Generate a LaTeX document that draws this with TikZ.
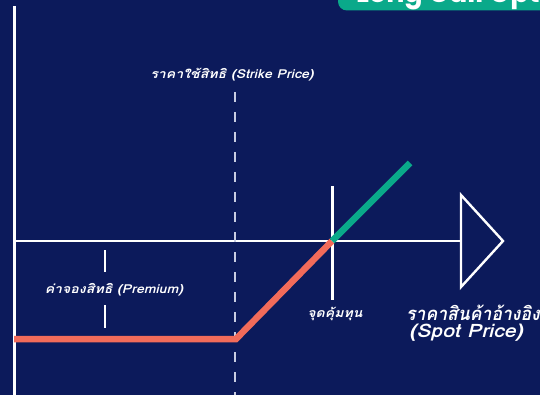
\documentclass[tikz,border=0pt]{standalone}
\usepackage{fontspec}
\setmainfont{Poppins}
\newfontfamily\thaifont[Script=Thai,FakeStretch=1.15]{Loma}
\newfontfamily\thainarrow[Script=Thai,FakeStretch=0.95]{Loma}
\definecolor{navy}{HTML}{0C1A5B}
\definecolor{tealc}{HTML}{0AA98A}
\definecolor{coral}{HTML}{F26B5A}
\definecolor{dashc}{HTML}{C9CDE2}
\tikzset{
  axisline/.style={white,line width=2.6pt},
  payoff/.style={line width=6.5pt},
  lbl/.style={text=white,font=\thaifont\bfseries\itshape\fontsize{12.3}{14}\selectfont,inner sep=0pt},
  biglbl/.style={text=white,font=\thaifont\bfseries\itshape\fontsize{18.5}{21}\selectfont,inner sep=0pt,align=center},
}
\begin{document}
\begin{tikzpicture}[x=1pt,y=-1pt]
\fill[navy] (0,0) rectangle (540,395);
\useasboundingbox (0,0) rectangle (540,395);
\clip (0,0) rectangle (540,395);
% title badge
\fill[tealc,rounded corners=9pt] (338,-40) rectangle (580,10.5);
\node[anchor=base west,text=white,font=\bfseries\fontsize{27}{30}\selectfont,inner sep=0pt] (title) at (356,3) {Long Call Options};
% axes
\coordinate (ytop) at (14.5,6);
\coordinate (ybot) at (14.5,395);
\coordinate (o) at (14.5,241);
\coordinate (tl) at (461,195);
\coordinate (tip) at (503,241);
\coordinate (tb) at (461,287);
\coordinate (ax) at (461,241);
\draw[axisline] (ytop) -- (ybot);
\draw[axisline] (o) -- (ax);
\draw[white,line width=2.4pt,line join=miter] (tl) -- (tip) -- (tb) -- cycle;
% strike line
\coordinate (s1) at (235,92);
\coordinate (s2) at (235,395);
\draw[dashc,line width=2.6pt,dash pattern=on 10pt off 10pt] (s1) -- (s2);
\node[lbl] (strike) at (232,75) {ราคาใช้สิทธิ (Strike Price)};
% premium marker
\coordinate (m1) at (105,250);
\coordinate (m2) at (105,272);
\coordinate (m3) at (105,305);
\coordinate (m4) at (105,328);
\draw[white,line width=2.4pt] (m1) -- (m2);
\draw[white,line width=2.4pt] (m3) -- (m4);
\node[lbl] (prem) at (114,290) {ค่าจองสิทธิ (Premium)};
% break-even line
\coordinate (b1) at (332.5,186);
\coordinate (b2) at (332.5,300);
\draw[white,line width=2.4pt] (b1) -- (b2);
\node[lbl] (be) at (335,314) {จุดคุ้มทุน};
% payoff
\coordinate (p0) at (14,339);
\coordinate (k) at (236,339);
\coordinate (bep) at (332,241);
\coordinate (g) at (410,163);
\draw[coral,payoff,line join=miter] (p0) -- (k) -- (bep);
\draw[tealc,payoff] (bep) -- (g);
% spot price label
\node[biglbl,font=\thainarrow\bfseries\itshape\fontsize{18.5}{21}\selectfont,anchor=west] (spot) at (406,313) {ราคาสินค้าอ้างอิง};
\node[biglbl] (spot2) at (466,333) {(Spot Price)};
\end{tikzpicture}
\end{document}
